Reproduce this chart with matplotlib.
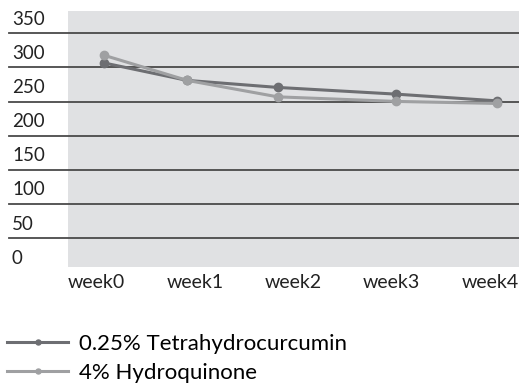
import matplotlib
matplotlib.use("Agg")
import matplotlib.pyplot as plt
import matplotlib.transforms as mtransforms

# data
weeks = ["week0", "week1", "week2", "week3", "week4"]
week_pos = [0.07, 0.92, 1.84, 3.04, 4.07]
thc = [306.7, 281.0, 270.7, 260.9, 251.0]
hq = [318.0, 281.0, 256.9, 250.2, 247.2]
series_names = ["0.25% Tetrahydrocurcumin", "4% Hydroquinone"]
y_ticks = [0, 50, 100, 150, 200, 250, 300, 350]

plt.rcParams['font.family'] = ['Lato', 'DejaVu Sans']

fig = plt.figure(figsize=(5.19, 3.90), dpi=100)
ax = fig.add_axes([68/519, 1-267/390, 1-68/519, (267-11)/390])
ax.set_facecolor("#e0e1e3")
ax.set_xlim(-0.292, 4.295)
ax.set_ylim(7.5, 382.7)
for s in ax.spines.values():
    s.set_visible(False)

ax.set_xticks(range(len(weeks)))
ax.set_xticklabels(weeks, fontsize=14, color="#222222")
ax.tick_params(axis='x', length=0, pad=5)
ax.set_yticks([])

xmin = -(68 - 9) / 451
for v in y_ticks:
    if v > 0:
        ax.axhline(v, xmin=xmin, xmax=1, color="#4a4a4a", lw=1.3, clip_on=False, zorder=1)
    ax.annotate(str(v), xy=(0, v), xycoords=mtransforms.blended_transform_factory(ax.transAxes, ax.transData),
                xytext=(-56, 14), textcoords='offset pixels', ha='left', va='center',
                fontsize=13.5, color="#222222", annotation_clip=False)

l1, = ax.plot(week_pos, thc, color="#6d6e72", lw=2.2, marker='o', ms=6, zorder=3, label=series_names[0])
l2, = ax.plot(week_pos, hq, color="#9fa0a2", lw=2.2, marker='o', ms=6, zorder=4, label=series_names[1])

fig.legend(handles=[l1, l2], loc='upper left', bbox_to_anchor=(7/519, 1-334/390), frameon=False,
           fontsize=16, handlelength=2.75, handletextpad=0.5, labelspacing=0.4, markerscale=0.6,
           borderaxespad=0, borderpad=0)

fig.savefig("out.png", dpi=100)
